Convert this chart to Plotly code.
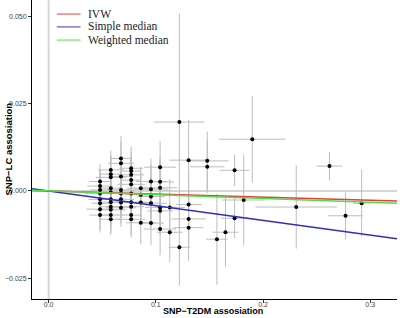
import plotly.graph_objects as go

# SNP-level estimates
snp_x = [0.048]*8 + [0.058]*11 + [0.0675]*8 + [0.077]*10 + [0.086]*4 + [0.0955]*5 + [0.104]*6 + \
        [0.113, 0.113, 0.122, 0.122, 0.1306, 0.1306, 0.1306, 0.1306, 0.148, 0.148, 0.157, 0.165,
         0.1735, 0.1735, 0.182, 0.190, 0.231, 0.262, 0.277, 0.292]
snp_y = [0.0027, 0.0014, 0.0003, -0.0007, -0.0024, -0.0035, -0.0052, -0.0069,
         0.0060, 0.0048, 0.0039, 0.0008, -0.0004, -0.0024, -0.0032, -0.0045, -0.0054, -0.0069, -0.0081,
         0.0093, 0.0079, 0.0041, 0.0003, -0.0007, -0.0024, -0.0033, -0.0048,
         0.0065, 0.0057, 0.0046, 0.0031, 0.0019, -0.0007, -0.0032, -0.0045, -0.0069, -0.0081,
         0.0008, -0.0011, -0.0033, -0.0091,
         0.0027, 0.0005, -0.0016, -0.0035, -0.0092,
         0.0068, 0.0026, 0.0009, -0.0047, -0.0057, -0.0109,
         -0.0047, -0.0118, 0.0197, -0.0161, 0.0088, -0.0039, -0.0080, -0.0105, 0.0086, 0.0069, -0.0138, -0.0118,
         0.0059, -0.0078, -0.0026, 0.0148, -0.0046, 0.0071, -0.0071, -0.0035]
snp_xerr = [0.010, 0.012, 0.009, 0.014, 0.011, 0.008, 0.013, 0.010,
            0.012, 0.010, 0.014, 0.011, 0.009, 0.013, 0.012, 0.010, 0.014, 0.011, 0.009,
            0.010, 0.012, 0.011, 0.013, 0.009, 0.012, 0.010, 0.014,
            0.011, 0.009, 0.012, 0.010, 0.013, 0.011, 0.014, 0.012, 0.010, 0.013,
            0.013, 0.015, 0.012, 0.014,
            0.014, 0.016, 0.013, 0.015, 0.012,
            0.015, 0.013, 0.016, 0.014, 0.012, 0.015,
            0.014, 0.012, 0.0235, 0.010, 0.018, 0.012, 0.016, 0.014, 0.020, 0.016, 0.010, 0.012,
            0.014, 0.013, 0.020, 0.031, 0.038, 0.012, 0.016, 0.008]
snp_yerr = [0.0050, 0.0045, 0.0060, 0.0055, 0.0048, 0.0052, 0.0058, 0.0050,
            0.0055, 0.0050, 0.0062, 0.0048, 0.0058, 0.0052, 0.0060, 0.0050, 0.0055, 0.0050, 0.0045,
            0.0065, 0.0060, 0.0055, 0.0050, 0.0058, 0.0052, 0.0060, 0.0055,
            0.0062, 0.0055, 0.0050, 0.0058, 0.0052, 0.0060, 0.0055, 0.0050, 0.0058, 0.0052,
            0.0060, 0.0065, 0.0058, 0.0062,
            0.0065, 0.0070, 0.0060, 0.0068, 0.0062,
            0.0075, 0.0070, 0.0080, 0.0072, 0.0068, 0.0075,
            0.0080, 0.0085, 0.0310, 0.0110, 0.0115, 0.0090, 0.0085, 0.0095, 0.0084, 0.0075, 0.0130, 0.0100,
            0.0045, 0.0057, 0.0130, 0.0124, 0.0119, 0.0041, 0.0067, 0.0095]

# MR estimates (slopes through the origin)
methods = ["IVW", "Simple median", "Weighted median"]
slopes = [-0.0088, -0.042, -0.0108]
colors = ["#e0403a", "#2e2ebf", "#55dd44"]

x_range = [-0.0155, 0.325]
y_range = [-0.0309, 0.0546]

fig = go.Figure()

# reference lines at zero
fig.add_trace(go.Scatter(x=[0, 0], y=y_range, mode="lines",
                         line=dict(color="#d6d6d6", width=2), showlegend=False, hoverinfo="skip"))
fig.add_trace(go.Scatter(x=x_range, y=[0, 0], mode="lines",
                         line=dict(color="#d6d6d6", width=2), showlegend=False, hoverinfo="skip"))

fig.add_trace(go.Scatter(
    x=snp_x, y=snp_y, mode="markers",
    marker=dict(color="black", size=4),
    error_x=dict(type="data", array=snp_xerr, color="#bdbdbd", thickness=1, width=0),
    error_y=dict(type="data", array=snp_yerr, color="#bdbdbd", thickness=1, width=0),
    showlegend=False))

for m, s, c in zip(methods, slopes, colors):
    fig.add_trace(go.Scatter(x=x_range, y=[s * x_range[0], s * x_range[1]], mode="lines",
                             line=dict(color=c, width=1.5), name=m, showlegend=False))

# compact legend drawn in paper coordinates
legend_rows_y = [0.953, 0.910, 0.866]
for m, c, ly in zip(methods, colors, legend_rows_y):
    fig.add_shape(type="line", xref="paper", yref="paper", x0=0.068, x1=0.133, y0=ly, y1=ly,
                  line=dict(color=c, width=1.2), opacity=0.8)
    fig.add_annotation(xref="paper", yref="paper", x=0.152, y=ly, text=m, showarrow=False,
                       xanchor="left", yanchor="middle", borderpad=0,
                       font=dict(family="Liberation Serif", size=11.5, color="#222"))

fig.add_annotation(xref="paper", yref="paper", x=0.497, y=0, yshift=-6, text="<b>SNP−T2DM assosiation</b>",
                   showarrow=False, xanchor="center", yanchor="top", borderpad=0,
                   font=dict(family="Liberation Sans", size=9, color="black"))
fig.add_annotation(xref="paper", yref="paper", x=0, xshift=-24, y=0.5, text="<b>SNP−LC assosiation</b>",
                   showarrow=False, xanchor="center", yanchor="middle", textangle=-90,
                   font=dict(family="Liberation Sans", size=9.5, color="black"))

fig.update_layout(
    width=400, height=318,
    margin=dict(l=32, r=3, t=0, b=19),
    plot_bgcolor="white", paper_bgcolor="white",
    showlegend=False,
    xaxis=dict(range=x_range, tickvals=[0.0, 0.1, 0.2, 0.3], ticktext=["0.0", "0.1", "0.2", "0.3"],
               showgrid=False, zeroline=False, showline=True, linecolor="black", linewidth=1,
               ticks="outside", ticklen=3, tickcolor="#333", automargin=False, ticklabelstandoff=-4,
               tickfont=dict(family="Liberation Sans", size=7, color="#444")),
    yaxis=dict(range=y_range, tickvals=[-0.025, 0.0, 0.025, 0.05],
               ticktext=["−0.025", "0.000", "0.025", "0.050"],
               showgrid=False, zeroline=False, showline=True, linecolor="black", linewidth=1,
               ticks="outside", ticklen=3, tickcolor="#333", automargin=False,
               tickfont=dict(family="Liberation Sans", size=7, color="#444")),
)

fig.write_html("out.html", config={"displayModeBar": False},
               post_script="document.body.style.margin='0';document.body.style.overflow='hidden';")
